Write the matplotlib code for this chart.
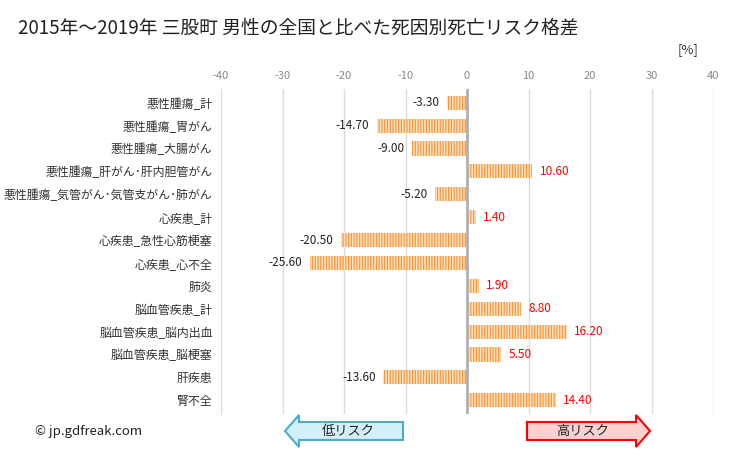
import matplotlib
matplotlib.use('Agg')
import matplotlib.pyplot as plt
from matplotlib.patches import FancyArrow

plt.rcParams['font.family'] = ['Noto Sans CJK JP', 'DejaVu Sans']
plt.rcParams['hatch.linewidth'] = 0.9

causes = ["悪性腫瘍_計", "悪性腫瘍_胃がん", "悪性腫瘍_大腸がん", "悪性腫瘍_肝がん･肝内胆管がん",
          "悪性腫瘍_気管がん･気管支がん･肺がん", "心疾患_計", "心疾患_急性心筋梗塞", "心疾患_心不全",
          "肺炎", "脳血管疾患_計", "脳血管疾患_脳内出血", "脳血管疾患_脳梗塞", "肝疾患", "腎不全"]
values = [-3.30, -14.70, -9.00, 10.60, -5.20, 1.40, -20.50, -25.60,
          1.90, 8.80, 16.20, 5.50, -13.60, 14.40]
xticks = [-40, -30, -20, -10, 0, 10, 20, 30, 40]

fig = plt.figure(figsize=(7.29, 4.5), dpi=100)
ax = fig.add_axes([221 / 729, 1 - 414 / 450, (713 - 221) / 729, (414 - 89) / 450])

ypos = list(range(len(causes)))
ax.barh(ypos, values, height=0.62, color='#fde3c6', edgecolor='#f5993c',
        hatch='||||||', linewidth=0)

for y, v in zip(ypos, values):
    if v < 0:
        ax.text(v - 1.2, y, f"{v:.2f}", ha='right', va='center', fontsize=8.5, color='#222222')
    else:
        ax.text(v + 1.2, y, f"{v:.2f}", ha='left', va='center', fontsize=8.5, color='#ff0000')

ax.set_xlim(-40, 40)
ax.set_ylim(len(causes) - 0.4, -0.6)
ax.set_yticks(ypos)
ax.set_yticklabels(causes, fontsize=8.6, color='#333333')
ax.set_xticks(xticks)
ax.set_xticklabels([str(t) for t in xticks])
ax.xaxis.tick_top()
ax.tick_params(axis='x', length=0, labelsize=8, labelcolor='#888888', pad=6)
ax.tick_params(axis='y', length=0, pad=6)
for t in xticks:
    if t != 0:
        ax.axvline(t, color='#dcdcdc', linewidth=1, zorder=0)
ax.axvline(0, color='#b0b0b0', linewidth=2, zorder=3)
for s in ['top', 'right', 'bottom']:
    ax.spines[s].set_visible(False)
ax.spines['left'].set_color('#dcdcdc')

fig.text(18 / 729, 1 - 28 / 450, "2015年～2019年 三股町 男性の全国と比べた死因別死亡リスク格差",
         fontsize=13.5, va='center', ha='left', color='#222222')
fig.text(688 / 729, 1 - 50 / 450, "[%]", fontsize=9.5, va='center', ha='center', color='#333333')
fig.text(35 / 729, 1 - 432 / 450, "© jp.gdfreak.com", fontsize=9.5, va='center', ha='left', color='#222222')

# risk arrows
yc = 1 - 431 / 450
fig.patches.append(FancyArrow(403 / 729, yc, -(403 - 285) / 729, 0, width=18 / 450,
                              head_width=32 / 450, head_length=14 / 729,
                              length_includes_head=True, transform=fig.transFigure,
                              facecolor='#d3eff9', edgecolor='#4bacc6', linewidth=1.5))
fig.text(348 / 729, yc, "低リスク", fontsize=9.5, va='center', ha='center', color='#222222')
fig.patches.append(FancyArrow(527 / 729, yc, (650 - 527) / 729, 0, width=18 / 450,
                              head_width=32 / 450, head_length=14 / 729,
                              length_includes_head=True, transform=fig.transFigure,
                              facecolor='#ffd0d0', edgecolor='#ff0000', linewidth=1.5))
fig.text(583 / 729, yc, "高リスク", fontsize=9.5, va='center', ha='center', color='#222222')

fig.savefig('out.png', dpi=100)
